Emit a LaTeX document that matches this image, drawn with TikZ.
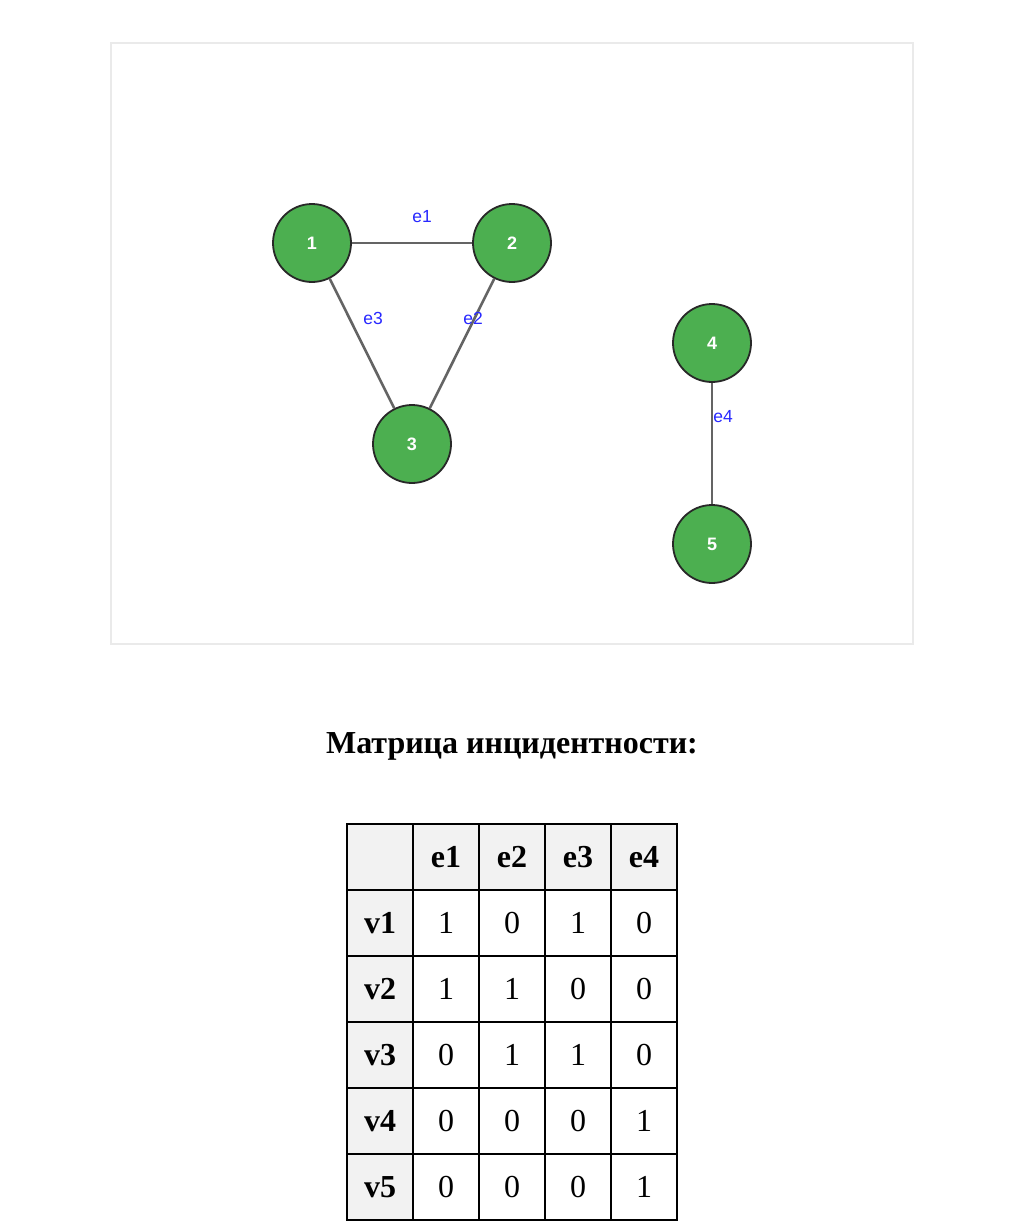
\documentclass[tikz,border=0pt]{standalone}
\usepackage{fontspec}
\setmainfont{Liberation Serif}
\newfontfamily\gsans{Liberation Sans}
\definecolor{vgreen}{RGB}{76,175,80}
\definecolor{vborder}{RGB}{40,40,40}
\definecolor{egray}{RGB}{100,100,100}
\definecolor{eblue}{RGB}{40,40,255}
\definecolor{hgray}{RGB}{242,242,242}
\definecolor{frame}{RGB}{234,234,234}
\begin{document}
\begin{tikzpicture}[x=1pt,y=-1pt,
  vert/.style={circle,fill=vgreen,draw=vborder,line width=1.8pt,minimum size=78pt,inner sep=0pt,text=white,font=\gsans\bfseries\fontsize{18}{18}\selectfont},
  edge/.style={draw=egray,line width=2.6pt},
  elabel/.style={text=eblue,font=\gsans\fontsize{17.5}{17.5}\selectfont,inner sep=0pt},
  cellbase/.style={draw=black,line width=2pt,minimum width=66pt,minimum height=66pt,inner sep=0pt},
  hcell/.style={cellbase,fill=hgray,font=\bfseries\fontsize{32}{32}\selectfont},
  dcell/.style={cellbase,fill=white,font=\fontsize{32}{32}\selectfont},
  titlestyle/.style={font=\bfseries\fontsize{32}{32}\selectfont,inner sep=0pt}]
\useasboundingbox (0,0) rectangle (1011,1223);
\fill[white] (0,0) rectangle (1011,1223);
\draw[frame,line width=1.5pt] (111,43) rectangle (913,644);
\node[vert] (n1) at (312,243) {1};
\node[vert] (n2) at (512,243) {2};
\node[vert] (n3) at (412,444) {3};
\node[vert] (n4) at (712,343) {4};
\node[vert] (n5) at (712,544) {5};
\draw[edge] (n1) -- (n2);
\draw[edge] (n2) -- (n3);
\draw[edge] (n1) -- (n3);
\draw[edge] (n4) -- (n5);
\node[elabel] (l1) at (422,217) {e1};
\node[elabel] (l2) at (473,318) {e2};
\node[elabel] (l3) at (373,318) {e3};
\node[elabel] (l4) at (723,417) {e4};
% title
\node[titlestyle] (title) at (512,746) {Матрица инцидентности:};
% table
\node[hcell] (c00) at (380,857) {};
\foreach \t [count=\i] in {e1,e2,e3,e4}
  \node[hcell] (c\i0) at (380+66*\i,857) {\t};
\foreach \r/\a/\b/\c/\d [count=\j] in {v1/1/0/1/0,v2/1/1/0/0,v3/0/1/1/0,v4/0/0/0/1,v5/0/0/0/1}{
  \node[hcell] (c0\j) at (380,857+66*\j) {\r};
  \node[dcell] (c1\j) at (446,857+66*\j) {\a};
  \node[dcell] (c2\j) at (512,857+66*\j) {\b};
  \node[dcell] (c3\j) at (578,857+66*\j) {\c};
  \node[dcell] (c4\j) at (644,857+66*\j) {\d};
}
\end{tikzpicture}
\end{document}
